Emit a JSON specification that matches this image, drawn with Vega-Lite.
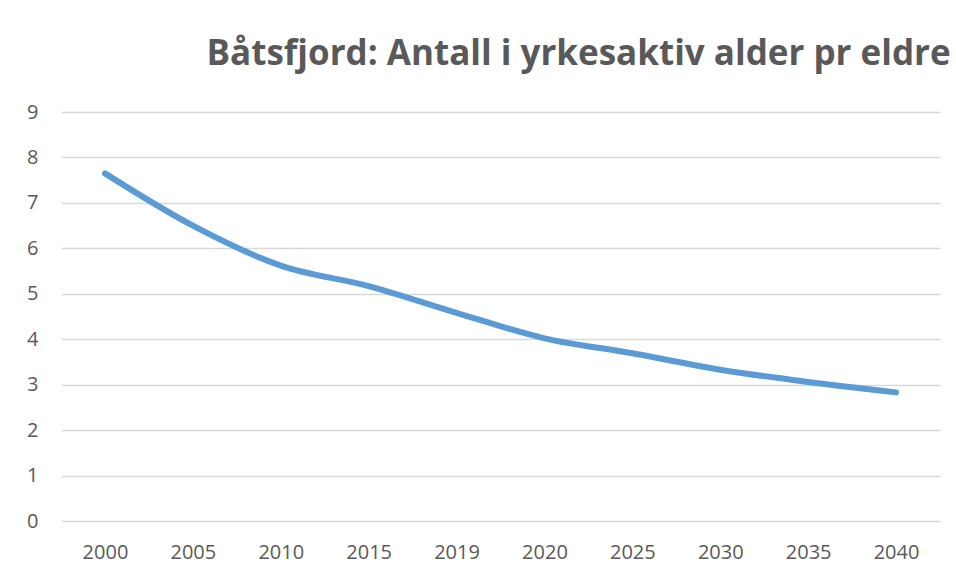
{
  "$schema": "https://vega.github.io/schema/vega-lite/v6.json",
  "width": 879,
  "height": 409,
  "autosize": {"type": "none"},
  "padding": {"left": 61, "top": 112, "right": 16, "bottom": 57},
  "background": "white",
  "title": {
    "text": "Båtsfjord: Antall i yrkesaktiv alder pr eldre",
    "anchor": "start",
    "dx": 180,
    "offset": 30,
    "font": "Open Sans",
    "fontSize": 35,
    "fontWeight": "bold",
    "color": "#595959"
  },
  "data": {
    "values": [
      {"year": "2000", "value": 7.65},
      {"year": "2005", "value": 6.5},
      {"year": "2010", "value": 5.62},
      {"year": "2015", "value": 5.17},
      {"year": "2019", "value": 4.58},
      {"year": "2020", "value": 4.02},
      {"year": "2025", "value": 3.69},
      {"year": "2030", "value": 3.33},
      {"year": "2035", "value": 3.06},
      {"year": "2040", "value": 2.83}
    ]
  },
  "config": {
    "view": {"stroke": null},
    "axis": {
      "labelFont": "Open Sans",
      "labelFontSize": 20,
      "labelColor": "#595959",
      "domain": false,
      "ticks": false,
      "title": null
    }
  },
  "mark": {"type": "line", "color": "#5B9BD5", "strokeWidth": 6, "strokeCap": "round", "strokeJoin": "round", "interpolate": "monotone"},
  "encoding": {
    "x": {
      "field": "year",
      "type": "ordinal",
      "sort": null,
      "scale": {"padding": 0.5},
      "axis": {"labelAngle": 0, "labelPadding": 21, "grid": false}
    },
    "y": {
      "field": "value",
      "type": "quantitative",
      "scale": {"domain": [0, 9], "nice": false},
      "axis": {"values": [0, 1, 2, 3, 4, 5, 6, 7, 8, 9], "grid": true, "gridColor": "#D9D9D9", "gridWidth": 1.3, "labelPadding": 23}
    }
  }
}
